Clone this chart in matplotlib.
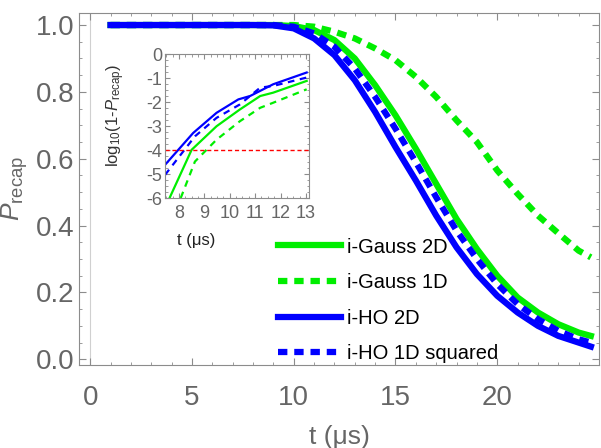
import matplotlib
matplotlib.use("Agg")
import matplotlib.pyplot as plt
from matplotlib.ticker import MultipleLocator, FixedLocator

plt.rcParams['font.family'] = ['Liberation Sans', 'DejaVu Sans']
plt.rcParams['mathtext.fontset'] = 'custom'
plt.rcParams['mathtext.rm'] = 'Liberation Sans'
plt.rcParams['mathtext.it'] = 'Liberation Sans:italic'

# recapture probability vs release time
t = [1, 2, 3, 4, 5, 6, 7, 8, 9, 10, 11, 12, 13, 14, 15, 16, 17, 18, 19, 20,
     21, 22, 23, 24, 24.6]
gauss_2d = [1.0, 1.0, 1.0, 1.0, 1.0, 1.0, 1.0, 1.0, 1.0, 0.997, 0.985, 0.955,
            0.9, 0.82, 0.73, 0.63, 0.525, 0.42, 0.33, 0.25, 0.185, 0.14,
            0.105, 0.08, 0.07]
gauss_1d = [1.0, 1.0, 1.0, 1.0, 1.0, 1.0, 1.0, 1.0, 1.0, 1.0, 0.995, 0.98,
            0.96, 0.93, 0.895, 0.845, 0.785, 0.715, 0.65, 0.565, 0.495, 0.43,
            0.377, 0.325, 0.305]
ho_2d = [1.0, 1.0, 1.0, 1.0, 1.0, 1.0, 1.0, 1.0, 0.999, 0.99, 0.96, 0.91,
         0.835, 0.74, 0.635, 0.535, 0.43, 0.335, 0.255, 0.19, 0.14, 0.1,
         0.07, 0.05, 0.038]
ho_1d_sq = [1.0, 1.0, 1.0, 1.0, 1.0, 1.0, 1.0, 1.0, 1.0, 0.995, 0.975, 0.935,
            0.87, 0.785, 0.69, 0.59, 0.485, 0.385, 0.3, 0.225, 0.165, 0.12,
            0.085, 0.06, 0.05]
xticks = [0, 5, 10, 15, 20]

# log10(1 - P) at early times
ti_ho_2d = [7.45, 8.56, 9.48, 10.34, 10.8, 11.71, 13.03]
lg_ho_2d = [-4.62, -3.29, -2.45, -1.89, -1.75, -1.26, -0.77]
ti_ho_1d = [7.45, 8.63, 9.48, 10.4, 11.2, 11.71, 13.03]
lg_ho_1d = [-5.04, -3.43, -2.66, -2.1, -1.4, -1.33, -0.98]
ti_g_2d = [7.63, 8.5, 9.48, 10.4, 11.2, 11.71, 13.03]
lg_g_2d = [-6.0, -3.99, -3.01, -2.31, -1.75, -1.61, -1.12]
ti_g_1d = [8.07, 8.63, 9.48, 10.4, 11.2, 11.71, 13.03]
lg_g_1d = [-6.0, -4.48, -3.57, -2.8, -2.24, -2.03, -1.47]
threshold = -4

GREEN = '#00ee00'
BLUE = '#0000ff'
GRAY = '#666666'
FRAME = '#8c8c8c'
dots = (0, (1.5, 1.1))

fig = plt.figure(figsize=(6.01, 4.48), dpi=100)
ax = fig.add_axes([0.1314, 0.1853, 0.8653, 0.7857])

ax.axvline(0, color='#d0d0d0', lw=0.8, zorder=0)
ax.plot(t, gauss_2d, color=GREEN, lw=4.5, label='i-Gauss 2D')
ax.plot(t, gauss_1d, color=GREEN, lw=4.5, ls=dots, label='i-Gauss 1D')
ax.plot(t, ho_2d, color=BLUE, lw=4.5, label='i-HO 2D')
ax.plot(t, ho_1d_sq, color=BLUE, lw=4.5, ls=dots, label='i-HO 1D squared')

ax.set_xlim(-0.55, 25.0)
ax.set_ylim(-0.017, 1.036)
ax.xaxis.set_major_locator(FixedLocator(xticks))
ax.xaxis.set_minor_locator(MultipleLocator(1))
ax.yaxis.set_major_locator(MultipleLocator(0.2))
ax.yaxis.set_minor_locator(MultipleLocator(0.05))
ax.yaxis.set_major_formatter(plt.FuncFormatter(lambda v, p: f'{v:.1f}'))
ax.tick_params(which='both', direction='in', top=True, right=True,
               color=FRAME, labelcolor=GRAY, labelsize=20)
ax.tick_params(which='major', length=5)
ax.tick_params(which='minor', length=2.5)
ax.tick_params(axis='x', pad=14.5)
for s in ax.spines.values():
    s.set_color(FRAME)
ax.set_xlabel('t (μs)', fontsize=19, color=GRAY, labelpad=10)
ax.set_ylabel(r'$P_{\mathrm{recap}}$', fontsize=19, color=GRAY, labelpad=4)

leg = ax.legend(loc='upper left', bbox_to_anchor=(0.368, 0.385), frameon=False,
                fontsize=14.5, handlelength=3.1, handletextpad=0.3,
                labelspacing=0.82, borderaxespad=0)

# inset
ins = fig.add_axes([0.2745, 0.558, 0.2396, 0.3214])
ins.plot(ti_g_2d, lg_g_2d, color=GREEN, lw=1.6)
ins.plot(ti_g_1d, lg_g_1d, color=GREEN, lw=1.6, ls=(0, (3, 2.5)))
ins.plot(ti_ho_2d, lg_ho_2d, color=BLUE, lw=1.6)
ins.plot(ti_ho_1d, lg_ho_1d, color=BLUE, lw=1.6, ls=(0, (3, 2.5)))
ins.axhline(threshold, color='#ff0000', lw=1.0, ls=(0, (3, 2)))
ins.set_xlim(7.45, 13.12)
ins.set_ylim(-6, 0)
ins.xaxis.set_major_locator(MultipleLocator(1))
ins.xaxis.set_minor_locator(MultipleLocator(0.25))
ins.yaxis.set_major_locator(MultipleLocator(1))
ins.yaxis.set_minor_locator(MultipleLocator(0.25))
ins.yaxis.set_major_formatter(plt.FuncFormatter(lambda v, p: f'{v:.0f}'.replace('\u2212', '-')))
ins.tick_params(which='both', direction='in', top=True, right=True,
                color=FRAME, labelcolor=GRAY, labelsize=13, pad=2)
ins.tick_params(axis='x', pad=5)
ins.tick_params(which='major', length=3.5)
ins.tick_params(which='minor', length=1.8)
for s in ins.spines.values():
    s.set_color(FRAME)
fig.text(0.327, 0.464, 't (μs)', fontsize=12, color='#222222',
         ha='center', va='center')
fig.text(0.192, 0.743, r'$\mathrm{log}_{10}(1\text{-}P_{\mathrm{recap}})$',
         fontsize=12, color='#333333', rotation=90, ha='center', va='center')

fig.savefig('out.png', dpi=100)
